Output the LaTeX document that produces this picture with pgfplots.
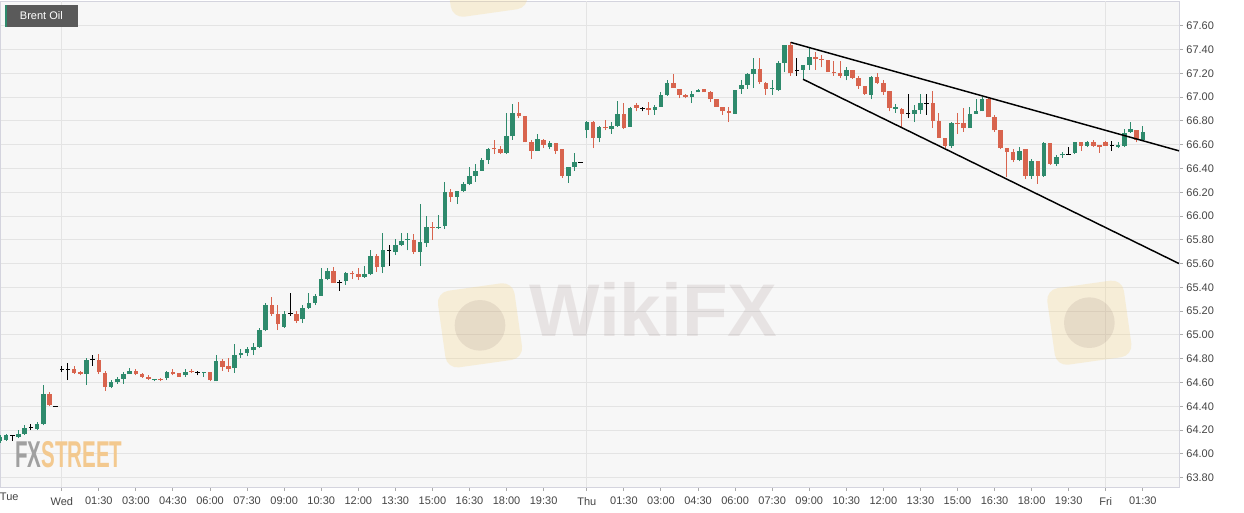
\documentclass[border=0pt]{standalone}
\usepackage{pgfplots}
\pgfplotsset{compat=1.18}
\usepackage{pgfplotstable}
\usepackage{fontspec}
\setmainfont{Liberation Sans}
\definecolor{upc}{HTML}{2E8A6C}
\definecolor{dnc}{HTML}{D8644E}
\definecolor{bgc}{HTML}{F7F7F7}
\definecolor{gridc}{HTML}{E4E4E4}
\definecolor{axc}{HTML}{D4D4DE}
\definecolor{tickc}{HTML}{AAAAAA}
\definecolor{labc}{HTML}{444444}
\definecolor{boxc}{HTML}{5A5A5A}
\definecolor{wmc}{RGB}{120,90,90}
\definecolor{wmy}{HTML}{F5D27A}
\definecolor{fxg}{HTML}{A0A0A0}
\definecolor{fxo}{HTML}{F3C98F}

% x = 15-minute candle index (Wed 00:00 = 0, Thu 00:00 = 85, Fri 00:00 = 169)
\pgfplotstableread{
x O H L C
-10 64.11 64.16 64.09 64.14
-9 64.12 64.17 64.11 64.16
-7 64.14 64.20 64.13 64.17
-6 64.17 64.24 64.16 64.22
-4 64.21 64.27 64.20 64.25
-3 64.25 64.58 64.24 64.50
4 64.67 64.81 64.58 64.79
8 64.56 64.62 64.55 64.60
9 64.60 64.65 64.59 64.63
10 64.63 64.69 64.59 64.67
11 64.67 64.72 64.67 64.70
15 64.62 64.63 64.61 64.63
17 64.64 64.70 64.62 64.69
20 64.66 64.71 64.65 64.69
23 64.68 64.69 64.65 64.69
25 64.61 64.83 64.61 64.78
28 64.72 64.92 64.68 64.83
29 64.83 64.88 64.81 64.85
30 64.85 64.90 64.82 64.88
31 64.87 64.93 64.83 64.90
32 64.90 65.06 64.89 65.04
33 65.04 65.27 65.03 65.25
36 65.07 65.20 65.06 65.18
39 65.13 65.25 65.10 65.23
40 65.23 65.35 65.22 65.27
41 65.27 65.34 65.25 65.33
42 65.33 65.56 65.33 65.47
43 65.47 65.56 65.46 65.54
46 65.45 65.53 65.42 65.52
49 65.49 65.58 65.48 65.51
50 65.51 65.71 65.50 65.66
52 65.57 65.86 65.52 65.71
54 65.70 65.81 65.67 65.76
55 65.76 65.86 65.75 65.79
56 65.80 65.86 65.71 65.81
58 65.70 66.10 65.58 65.78
59 65.77 66.00 65.74 65.91
61 65.90 66.01 65.89 65.91
62 65.92 66.29 65.89 66.20
64 66.16 66.21 66.10 66.21
65 66.21 66.29 66.20 66.27
66 66.27 66.41 66.26 66.34
67 66.34 66.44 66.29 66.38
68 66.38 66.49 66.38 66.47
69 66.47 66.57 66.44 66.56
72 66.53 66.87 66.52 66.67
73 66.67 66.94 66.64 66.87
77 66.55 66.69 66.55 66.65
79 66.58 66.63 66.56 66.61
82 66.34 66.41 66.28 66.41
83 66.41 66.53 66.38 66.45
85 66.72 66.80 66.66 66.79
87 66.66 66.76 66.62 66.75
89 66.73 66.79 66.69 66.76
90 66.76 66.97 66.75 66.86
92 66.75 66.92 66.75 66.91
96 66.89 66.93 66.85 66.92
97 66.92 67.04 66.92 67.02
98 67.02 67.14 67.01 67.12
102 67.00 67.05 66.95 67.03
103 67.04 67.07 67.04 67.06
109 66.86 67.06 66.86 67.06
110 67.07 67.14 67.03 67.10
111 67.10 67.20 67.07 67.19
112 67.19 67.33 67.08 67.24
115 67.07 67.14 67.02 67.08
116 67.06 67.30 67.05 67.29
117 67.29 67.44 67.21 67.44
120 67.23 67.27 67.15 67.27
121 67.27 67.41 67.23 67.34
127 67.18 67.25 67.14 67.23
131 67.02 67.18 66.98 67.17
135 66.90 66.94 66.87 66.92
138 66.86 66.93 66.79 66.89
139 66.89 67.03 66.86 66.95
144 66.59 66.79 66.57 66.78
147 66.74 66.92 66.74 66.86
148 66.86 66.98 66.86 66.88
149 66.88 67.00 66.88 66.98
155 66.47 66.58 66.46 66.55
157 66.34 66.48 66.31 66.46
159 66.34 66.62 66.33 66.61
161 66.44 66.51 66.42 66.50
162 66.51 66.54 66.49 66.52
164 66.53 66.62 66.52 66.62
166 66.59 66.63 66.58 66.62
171 66.58 66.62 66.57 66.60
172 66.59 66.73 66.58 66.70
173 66.71 66.79 66.70 66.73
175 66.64 66.76 66.63 66.71
}\upT

\pgfplotstableread{
x O H L C
-2 64.50 64.52 64.40 64.41
2 64.71 64.74 64.67 64.68
3 64.69 64.70 64.66 64.67
6 64.79 64.84 64.67 64.69
7 64.68 64.70 64.53 64.56
12 64.70 64.71 64.66 64.67
13 64.67 64.68 64.64 64.65
14 64.65 64.66 64.62 64.63
16 64.63 64.64 64.61 64.62
18 64.69 64.71 64.66 64.67
19 64.68 64.68 64.65 64.65
21 64.70 64.71 64.68 64.69
24 64.69 64.69 64.61 64.62
26 64.78 64.80 64.70 64.73
27 64.74 64.81 64.69 64.71
34 65.25 65.32 65.16 65.18
35 65.18 65.25 65.04 65.09
38 65.18 65.20 65.10 65.12
44 65.54 65.57 65.44 65.44
47 65.52 65.54 65.47 65.51
48 65.51 65.56 65.46 65.49
51 65.66 65.68 65.53 65.57
57 65.80 65.85 65.68 65.70
60 65.91 65.95 65.80 65.90
63 66.20 66.23 66.12 66.16
70 66.57 66.64 66.52 66.56
71 66.56 66.59 66.52 66.53
74 66.87 66.96 66.82 66.84
75 66.84 66.84 66.62 66.62
76 66.62 66.64 66.48 66.55
78 66.64 66.65 66.57 66.60
80 66.61 66.61 66.52 66.55
81 66.56 66.56 66.32 66.34
86 66.79 66.80 66.57 66.66
88 66.75 66.81 66.72 66.74
91 66.86 66.95 66.73 66.74
93 66.93 66.95 66.88 66.91
95 66.91 66.96 66.85 66.89
99 67.12 67.19 67.08 67.08
100 67.07 67.07 66.99 67.02
101 67.02 67.03 66.99 67.00
104 67.07 67.07 67.04 67.04
105 67.04 67.05 66.96 66.98
106 66.98 66.98 66.92 66.92
107 66.92 66.92 66.85 66.88
108 66.88 66.92 66.79 66.87
113 67.24 67.33 67.11 67.13
114 67.12 67.13 67.02 67.07
118 67.44 67.46 67.18 67.20
122 67.34 67.38 67.23 67.32
123 67.32 67.35 67.25 67.31
124 67.31 67.31 67.21 67.21
125 67.21 67.30 67.18 67.20
126 67.20 67.30 67.16 67.18
128 67.23 67.23 67.15 67.16
129 67.16 67.18 67.07 67.09
130 67.09 67.09 67.02 67.03
132 67.17 67.20 67.11 67.12
133 67.12 67.14 67.02 67.04
134 67.05 67.05 66.88 66.91
136 66.90 66.91 66.75 66.86
141 66.95 67.05 66.74 66.80
142 66.80 66.87 66.66 66.66
143 66.66 66.66 66.57 66.59
145 66.78 66.87 66.69 66.77
146 66.78 66.91 66.71 66.74
150 66.98 67.00 66.83 66.83
151 66.83 66.85 66.71 66.72
152 66.72 66.72 66.56 66.57
153 66.57 66.57 66.33 66.54
154 66.54 66.56 66.45 66.47
156 66.56 66.56 66.31 66.34
158 66.46 66.46 66.27 66.34
160 66.61 66.61 66.43 66.44
165 66.62 66.62 66.55 66.59
167 66.62 66.64 66.58 66.59
168 66.60 66.60 66.53 66.58
169 66.62 66.63 66.59 66.59
174 66.72 66.72 66.62 66.64
}\dnT

\pgfplotstableread{
x O H L C
-8 64.15 64.16 64.11 64.15
-5 64.22 64.25 64.20 64.22
-1 64.40 64.40 64.40 64.40
0 64.71 64.74 64.69 64.71
1 64.71 64.76 64.62 64.71
5 64.79 64.83 64.74 64.79
22 64.68 64.70 64.66 64.68
37 65.18 65.35 65.16 65.18
45 65.44 65.46 65.37 65.44
53 65.71 65.76 65.58 65.71
84 66.45 66.45 66.45 66.45
94 66.90 66.92 66.88 66.90
119 67.22 67.33 67.18 67.22
137 66.86 67.03 66.82 66.86
140 66.95 67.03 66.85 66.95
163 66.52 66.58 66.52 66.52
170 66.59 66.63 66.55 66.59
}\dojiT

\pgfplotsset{
  wick/.style={mark=none, draw=none, forget plot,
    error bars/.cd, y dir=plus, y explicit, error mark=none,
    error bar style={draw=#1, line width=0.75pt}},
  body/.style={mark=none, draw=none, forget plot,
    error bars/.cd, y dir=plus, y explicit, error mark=none,
    error bar style={draw=#1, line width=3.4pt}},
}

\begin{document}
\begin{tikzpicture}
\useasboundingbox (0,0) rectangle (933pt,384pt);
\begin{axis}[
  at={(0pt,18.75pt)}, anchor=south west,
  width=884.25pt, height=364.5pt, scale only axis,
  xmin=-10, xmax=180.86, ymin=63.721, ymax=67.808,
  axis background/.style={fill=bgc},
  axis line style={draw=axc, line width=0.75pt},
  tick align=outside, xtick pos=left, ytick pos=right, yticklabel pos=right,
  major tick length=3pt,
  every tick/.style={draw=tickc, line width=0.75pt},
  ymajorgrids, major grid style={draw=gridc, line width=0.75pt},
  xtick={0,6,12,18,24,30,36,42,48,54,60,66,72,78,85,91,97,103,109,115,121,127,133,139,145,151,157,163,169,175},
  xticklabels={Wed,01:30,03:00,04:30,06:00,07:30,09:00,10:30,12:00,13:30,15:00,16:30,18:00,19:30,Thu,01:30,03:00,04:30,06:00,07:30,09:00,10:30,12:00,13:30,15:00,16:30,18:00,19:30,Fri,01:30},
  extra x ticks={-8.5}, extra x tick labels={Tue},
  extra x tick style={major tick length=0pt, grid=none},
  ytick={63.8,64.0,64.2,64.4,64.6,64.8,65.0,65.2,65.4,65.6,65.8,66.0,66.2,66.4,66.6,66.8,67.0,67.2,67.4,67.6},
  yticklabels={63.80,64.00,64.20,64.40,64.60,64.80,65.00,65.20,65.40,65.60,65.80,66.00,66.20,66.40,66.60,66.80,67.00,67.20,67.40,67.60},
  tick label style={font=\fontsize{8.25}{10}\selectfont, text=labc},
  yticklabel style={anchor=west, xshift=-1pt},
  xticklabel style={yshift=-1pt},
]
\draw[gridc, line width=0.75pt] (axis cs:0,63.721) -- (axis cs:0,67.808);
\draw[gridc, line width=0.75pt] (axis cs:85,63.721) -- (axis cs:85,67.808);
\draw[gridc, line width=0.75pt] (axis cs:169,63.721) -- (axis cs:169,67.808);

\addplot[wick=upc] table[x=x, y=L, y error plus expr={\thisrow{H}-\thisrow{L}}] {\upT};
\addplot[body=upc] table[x=x, y=O, y error plus expr={\thisrow{C}-\thisrow{O}}] {\upT};
\addplot[wick=dnc] table[x=x, y=L, y error plus expr={\thisrow{H}-\thisrow{L}}] {\dnT};
\addplot[body=dnc] table[x=x, y=C, y error plus expr={\thisrow{O}-\thisrow{C}}] {\dnT};
\addplot[wick=black] table[x=x, y=L, y error plus expr={\thisrow{H}-\thisrow{L}}] {\dojiT};
\addplot[only marks, mark=-, mark size=1.7pt, mark options={draw=black, line width=0.75pt}] table[x=x, y=O] {\dojiT};

\addplot[black, line width=1.1pt, mark=none] coordinates {(118,67.46) (180.86,66.548)};
\addplot[black, line width=1.1pt, mark=none] coordinates {(120,67.15) (180.86,65.60)};
\end{axis}

% watermarks (logo shapes; centre text)
\begin{scope}[opacity=0.25]
\fill[wmy, rounded corners=9pt, rotate around={8:(360pt,140pt)}] (331pt,111pt) rectangle (389pt,169pt);
\fill[wmy, rounded corners=9pt, rotate around={8:(817pt,142pt)}] (788pt,113pt) rectangle (846pt,171pt);
\fill[wmy, rounded corners=9pt, rotate around={8:(364pt,403pt)}] (335pt,374pt) rectangle (393pt,432pt);
\end{scope}
\begin{scope}[opacity=0.12]
\fill[wmc] (360pt,140pt) circle (19pt);
\fill[wmc] (817pt,142pt) circle (19pt);
\node[text=wmc, font=\bfseries\fontsize{56}{56}\selectfont] at (490pt,152pt) {WikiFX};
\end{scope}

% FXSTREET logo
\node[anchor=base west, inner sep=0pt, xscale=0.55, font=\bfseries\fontsize{28}{28}\selectfont] at (11.25pt,33.75pt) {\textcolor{fxg}{FX}\textcolor{fxo}{STREET}};

% Brent Oil label
\fill[boxc] (3.75pt,363.75pt) rectangle (58.5pt,380.25pt);
\fill[upc] (3.75pt,363.75pt) rectangle (5.25pt,380.25pt);
\node[text=white, font=\fontsize{8.25}{10}\selectfont, inner sep=0pt] at (31pt,372pt) {Brent Oil};
\end{tikzpicture}
\end{document}
